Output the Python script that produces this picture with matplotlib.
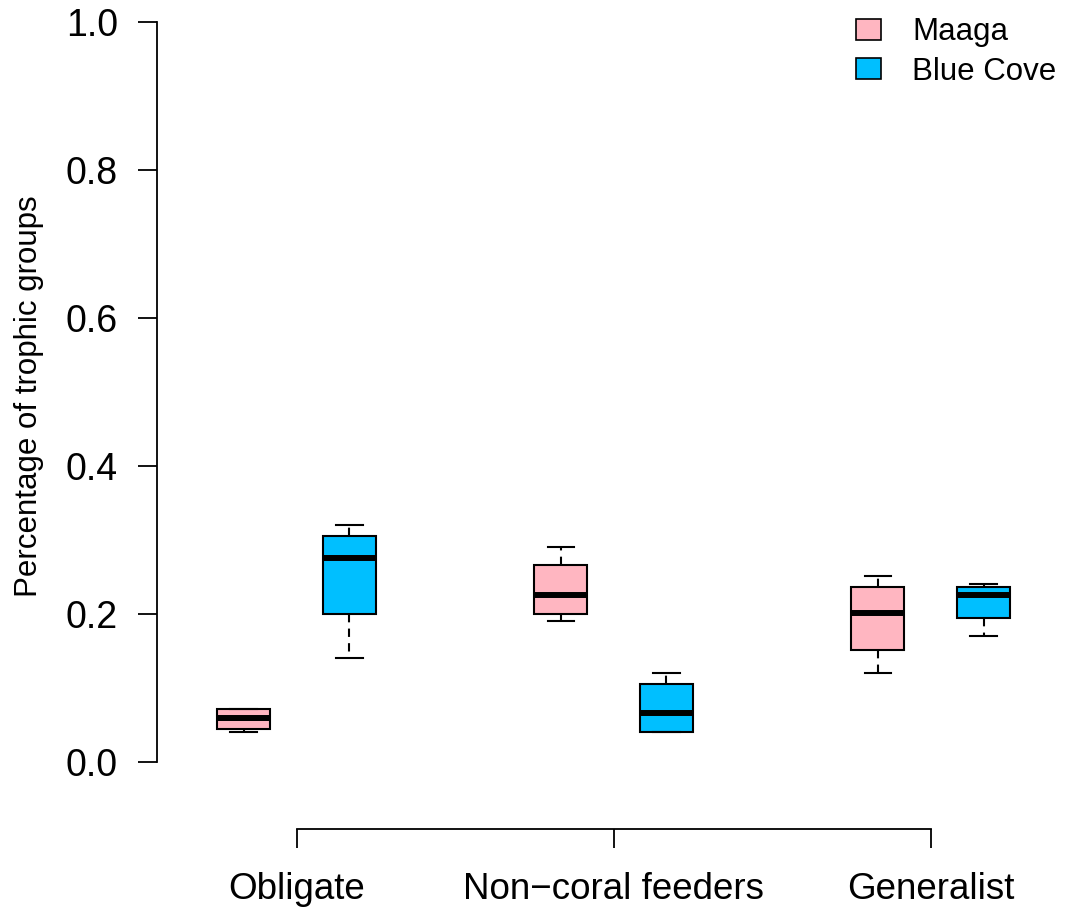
import matplotlib
matplotlib.use("Agg")
import matplotlib.pyplot as plt
from matplotlib.patches import Patch

plt.rcParams["font.family"] = ["Liberation Sans", "DejaVu Sans"]

groups = ["Obligate", "Non\u2212coral feeders", "Generalist"]
sites = ["Maaga", "Blue Cove"]
site_colors = ["#FFB6C1", "#00BFFF"]

# five-number summaries, order: group x site
whislo = [0.040, 0.140, 0.190, 0.040, 0.120, 0.170]
q1 = [0.045, 0.200, 0.200, 0.041, 0.151, 0.195]
med = [0.060, 0.276, 0.226, 0.066, 0.201, 0.226]
q3 = [0.071, 0.306, 0.266, 0.106, 0.236, 0.236]
whishi = [0.071, 0.320, 0.290, 0.120, 0.251, 0.240]
positions = [1, 2, 4, 5, 7, 8]
group_pos = [1.5, 4.5, 7.5]

W, H = 1068, 907
fig = plt.figure(figsize=(W / 100, H / 100), dpi=100)

# plot region in pixels: x 0.18 -> px 157, y -0.04 -> px 791.6
x0_px, x1_px = 157.0, 1068.0
y0_px, y1_px = 791.6, 0.0
ax = fig.add_axes([x0_px / W, 1 - y0_px / H, (x1_px - x0_px) / W, (y0_px - y1_px) / H])
unit_x = 105.7
ax.set_xlim(0.18, 0.18 + (x1_px - x0_px) / unit_x)
unit_y = 740.0
ax.set_ylim(-0.04, -0.04 + (y0_px - y1_px) / unit_y)

stats = []
for i in range(6):
    stats.append({"whislo": whislo[i], "q1": q1[i], "med": med[i], "q3": q3[i], "whishi": whishi[i], "fliers": []})

bp = ax.bxp(stats, positions=positions, widths=0.5, patch_artist=True, showfliers=False,
            boxprops=dict(linewidth=1.5, edgecolor="black"),
            medianprops=dict(color="black", linewidth=4.3, solid_capstyle="butt"),
            whiskerprops=dict(color="black", linewidth=1.5, linestyle=(0, (4, 3))),
            capprops=dict(color="black", linewidth=1.5), capwidths=0.25)
for i, box in enumerate(bp["boxes"]):
    box.set_facecolor(site_colors[i % 2])

for s in ["top", "right", "bottom"]:
    ax.spines[s].set_visible(False)
ax.spines["left"].set_bounds(0, 1)
ax.spines["left"].set_linewidth(1.3)
ax.set_yticks([0.0, 0.2, 0.4, 0.6, 0.8, 1.0])
ax.set_yticklabels(["0.0", "0.2", "0.4", "0.6", "0.8", "1.0"])
ax.tick_params(axis="y", length=14, width=1.3, labelsize=27, pad=14)
ax.set_xticks([])
ax.set_ylabel("Percentage of trophic groups", fontsize=22.5, labelpad=16)

# separate bottom axis below the plot region
bax = fig.add_axes([x0_px / W, 1 - 829 / H, (x1_px - x0_px) / W, 0.001])
bax.set_xlim(ax.get_xlim())
for s in ["top", "right", "left"]:
    bax.spines[s].set_visible(False)
bax.patch.set_visible(False)
bax.spines["bottom"].set_bounds(group_pos[0], group_pos[-1])
bax.spines["bottom"].set_linewidth(1.3)
bax.set_yticks([])
bax.set_xticks(group_pos)
bax.set_xticklabels(groups)
bax.tick_params(axis="x", length=14, width=1.3, labelsize=26.5, pad=17)

handles = [Patch(facecolor=c, edgecolor="black", linewidth=1.2) for c in site_colors]
ax.legend(handles, sites, loc="upper right", frameon=False, fontsize=22.5,
          bbox_to_anchor=(1.011, 1.006), handlelength=0.78, handleheight=0.65,
          handletextpad=1.0, labelspacing=0.3, borderaxespad=0.3)

fig.savefig("out.png", dpi=100)
